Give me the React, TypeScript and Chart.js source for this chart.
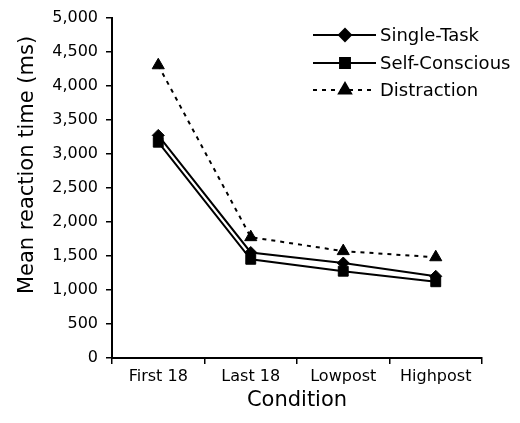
import React, { useEffect, useRef } from 'react';
import { Chart, registerables } from 'chart.js';
import { drawPoint } from 'chart.js/helpers';

Chart.register(...registerables);

const categories = ['First 18', 'Last 18', 'Lowpost', 'Highpost'];
const singleTask = [3270, 1550, 1395, 1200];
const selfConscious = [3170, 1450, 1275, 1120];
const distraction = [4300, 1775, 1570, 1480];
const seriesNames = ['Single-Task', 'Self-Conscious', 'Distraction'];
const yMin = 0;
const yMax = 5000;
const yStep = 500;
const yTitle = 'Mean reaction time (ms)';
const xTitle = 'Condition';

const FONT = 'DejaVu Sans';

const yTitlePlugin = {
  id: 'yTitlePlugin',
  afterDraw(chart: any) {
    const ctx = chart.ctx;
    ctx.save();
    ctx.translate(28, 165);
    ctx.rotate(-Math.PI / 2);
    ctx.fillStyle = '#000';
    ctx.font = `21px "${FONT}"`;
    ctx.textAlign = 'center';
    ctx.textBaseline = 'middle';
    ctx.fillText(yTitle, 0, 0);
    ctx.restore();
  },
};

const legendPlugin = {
  id: 'customLegend',
  afterDraw(chart: any) {
    const ctx = chart.ctx;
    const rows = [35, 63, 90];
    chart.data.datasets.forEach((ds: any, i: number) => {
      const y = rows[i];
      ctx.save();
      ctx.strokeStyle = '#000';
      ctx.lineWidth = 2;
      ctx.setLineDash(ds.borderDash || []);
      ctx.beginPath();
      ctx.moveTo(313, y);
      ctx.lineTo(376, y);
      ctx.stroke();
      ctx.setLineDash([]);
      ctx.fillStyle = '#000';
      drawPoint(ctx, { pointStyle: ds.pointStyle, radius: ds.pointRadius, borderWidth: 1, rotation: 0 } as any, 345, y);
      ctx.fill();
      ctx.font = `18px "${FONT}"`;
      ctx.textAlign = 'left';
      ctx.textBaseline = 'middle';
      ctx.fillText(ds.label, 380, y + 1);
      ctx.restore();
    });
  },
};

export default function App() {
  const ref = useRef<HTMLCanvasElement | null>(null);

  useEffect(() => {
    if (!ref.current) return;
    const common = {
      borderColor: '#000',
      backgroundColor: '#000',
      pointBackgroundColor: '#000',
      pointBorderColor: '#000',
      borderWidth: 2,
      pointBorderWidth: 1,
      tension: 0,
      fill: false,
    };
    const chart = new Chart(ref.current, {
      type: 'line',
      data: {
        labels: categories,
        datasets: [
          { ...common, label: seriesNames[0], data: singleTask, pointStyle: 'rectRot', pointRadius: 6 },
          { ...common, label: seriesNames[1], data: selfConscious, pointStyle: 'rect', pointRadius: 7 },
          { ...common, label: seriesNames[2], data: distraction, pointStyle: 'triangle', pointRadius: 7, borderDash: [4, 5] },
        ] as any,
      },
      options: {
        responsive: false,
        animation: false,
        layout: { padding: { top: 17, right: 38, bottom: 0, left: 0 } },
        plugins: {
          legend: { display: false },
          tooltip: { enabled: false },
        },
        scales: {
          x: {
            type: 'category',
            offset: true,
            grid: {
              offset: true,
              drawOnChartArea: false,
              drawTicks: true,
              tickLength: 6,
              color: '#000',
              lineWidth: 1.5,
            },
            border: { display: true, color: '#000', width: 2 },
            ticks: {
              color: '#000',
              font: { family: FONT, size: 16 },
              padding: 3,
              maxRotation: 0,
              autoSkip: false,
            },
            title: {
              display: true,
              text: xTitle,
              color: '#000',
              font: { family: FONT, size: 21 },
              padding: { top: 0, bottom: 10 },
            },
            afterFit(scale: any) {
              scale.height = 65;
            },
          },
          y: {
            type: 'linear',
            min: yMin,
            max: yMax,
            grid: {
              drawOnChartArea: false,
              drawTicks: true,
              tickLength: 6,
              color: '#000',
              lineWidth: 1.5,
            },
            border: { display: true, color: '#000', width: 2 },
            ticks: {
              stepSize: yStep,
              color: '#000',
              font: { family: FONT, size: 16 },
              padding: 8,
              callback: (v: any) => Number(v).toLocaleString('en-US'),
            },
            title: { display: false },
            afterFit(scale: any) {
              scale.width = 112;
            },
          },
        },
      } as any,
      plugins: [yTitlePlugin, legendPlugin],
    });
    return () => chart.destroy();
  }, []);

  return (
    <div style={{ position: 'absolute', left: 0, top: 0, width: 520, height: 423, background: '#fff' }}>
      <canvas ref={ref} width={520} height={423} style={{ display: 'block' }} />
    </div>
  );
}
